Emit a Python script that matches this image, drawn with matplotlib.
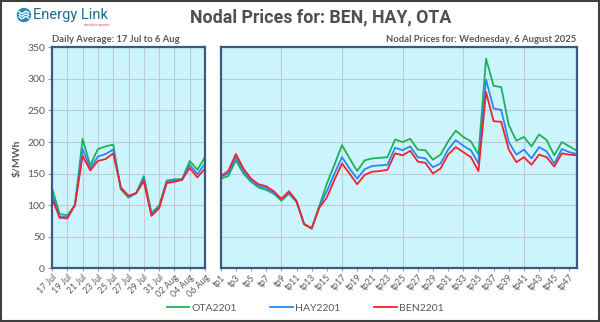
import numpy as np
import matplotlib
matplotlib.use("Agg")
import matplotlib.pyplot as plt
from matplotlib.patches import Rectangle, Circle

# daily averages, 17 Jul to 6 Aug
days = ["17 Jul", "18 Jul", "19 Jul", "20 Jul", "21 Jul", "22 Jul", "23 Jul", "24 Jul",
        "25 Jul", "26 Jul", "27 Jul", "28 Jul", "29 Jul", "30 Jul", "31 Jul", "01 Aug",
        "02 Aug", "03 Aug", "04 Aug", "05 Aug", "06 Aug"]
ota_daily = [127, 86, 84, 100, 205, 163, 189, 193, 196, 125, 112, 119, 146, 88, 99, 139,
             141, 141, 170, 156, 176]
hay_daily = [117, 82, 81, 100, 189, 158, 177, 181, 188, 127, 113, 119, 142, 85, 97, 137,
             139, 141, 164, 149, 166]
ben_daily = [111, 80, 79, 100, 178, 155, 170, 173, 182, 128, 115, 119, 138, 83, 95, 135,
             137, 140, 159, 144, 158]

# trading periods for 6 Aug 2025
tps = ["tp%d" % k for k in range(1, 49)]
ota_tp = [142, 146, 171, 150, 137, 128, 124, 118, 107, 118, 105, 70, 63, 98, 134, 164,
          195, 174, 154, 171, 174, 175, 176, 204, 200, 205, 188, 187, 172, 180, 201, 218,
          208, 201, 180, 332, 289, 287, 227, 202, 208, 193, 212, 203, 179, 200, 193, 186]
hay_tp = [145, 150, 176, 154, 139, 130, 127, 120, 109, 120, 106, 70, 63, 98, 122, 150,
          176, 158, 142, 157, 162, 163, 164, 191, 187, 193, 176, 174, 160, 166, 188, 203,
          194, 187, 166, 299, 253, 251, 200, 180, 188, 174, 192, 185, 166, 189, 184, 181]
ben_tp = [146, 154, 181, 158, 142, 133, 130, 122, 110, 122, 107, 70, 63, 96, 112, 140,
          166, 150, 133, 148, 153, 154, 156, 182, 179, 186, 169, 167, 150, 158, 180, 192,
          184, 176, 154, 279, 233, 232, 188, 168, 176, 164, 180, 176, 161, 182, 180, 179]

series = [("OTA2201", "#1DB15A"), ("HAY2201", "#2E86F5"), ("BEN2201", "#F5222D")]

W, H = 600, 322
fig = plt.figure(figsize=(W / 100, H / 100), dpi=100)
fig.patch.set_facecolor("white")
plt.rcParams["font.family"] = ["Lato", "DejaVu Sans"]

txt_col = "#595959"
bg = "#CCF4FC"
frame_col = "#3A5A86"
grid_col = "#BFC9D1"


def px(x, y):
    return x / W, 1 - y / H


def inch(x, y):
    return x / 100, (H - y) / 100


def style_axes(ax):
    ax.set_facecolor(bg)
    for s in ax.spines.values():
        s.set_color(frame_col)
        s.set_linewidth(1.6)
    ax.set_ylim(0, 350)
    ax.set_yticks(np.arange(0, 351, 50))
    ax.grid(axis="y", color=grid_col, lw=0.8)
    ax.tick_params(axis="x", length=2.5, color="#A0A0A0", labelsize=6.3,
                   labelcolor=txt_col, pad=1, rotation=45)
    ax.set_axisbelow(True)


y0, y1 = 268.3, 47.3
axl = fig.add_axes([52 / W, 1 - y0 / H, 153 / W, (y0 - y1) / H])
axr = fig.add_axes([220.7 / W, 1 - y0 / H, 356.3 / W, (y0 - y1) / H])

# daily average panel
style_axes(axl)
xd = np.arange(len(days))
for (name, col), vals in zip(series, [ota_daily, hay_daily, ben_daily]):
    axl.plot(xd, vals, color=col, lw=1.3, label=name)
axl.set_xlim(0, len(days) - 1)
axl.set_xticks(xd[::2])
axl.set_xticklabels(days[::2], ha="right", rotation_mode="anchor")
for xv in xd[::2]:
    axl.axvline(xv, color=grid_col, lw=0.8, zorder=0)
axl.tick_params(axis="y", length=3, color="#A0A0A0", labelsize=7.5, labelcolor=txt_col, pad=2)
axl.set_ylabel("$/MWh", fontsize=7.5, fontweight="bold", color=txt_col, labelpad=4)

# trading period panel
style_axes(axr)
xt = np.arange(len(tps))
for (name, col), vals in zip(series, [ota_tp, hay_tp, ben_tp]):
    axr.plot(xt, vals, color=col, lw=1.3)
axr.set_xlim(0, len(tps) - 1)
axr.set_xticks(xt[::2])
axr.set_xticklabels(tps[::2], ha="right", rotation_mode="anchor")
for xv in xt[::8]:
    axr.axvline(xv, color=grid_col, lw=0.8, zorder=0)
axr.tick_params(axis="y", left=False, labelleft=False)

# titles
fig.text(*px(321, 17), "Nodal Prices for: BEN, HAY, OTA", ha="center", va="center",
         fontsize=12.8, fontweight="bold", color="#4F4F4F", family=["Roboto", "DejaVu Sans"])
fig.text(*px(52, 40), "Daily Average: 17 Jul to 6 Aug", ha="left", va="center",
         fontsize=6.8, fontweight="bold", color=txt_col)
fig.text(*px(576, 40), "Nodal Prices for: Wednesday, 6 August 2025", ha="right", va="center",
         fontsize=6.8, fontweight="bold", color=txt_col)

# logo: round badge with three white waves
inch_tr = fig.dpi_scale_trans
fig.patches.append(Circle(inch(24, 15), 0.072, transform=inch_tr,
                          facecolor="#2389B5", edgecolor="none"))
t = np.linspace(-4.8, 4.8, 30)
for dy in (-2.6, 0, 2.6):
    half = np.sqrt(np.clip(49 - dy ** 2, 0, None)) * 0.85
    tt = t[np.abs(t) <= half]
    xs, ys = inch(24 + tt, 15 + dy - 1.1 * np.sin(tt * 0.8))
    fig.lines.append(plt.Line2D(xs, ys, transform=inch_tr, color="white", lw=1.0))
fig.text(*px(33, 15), "Energy Link", ha="left", va="center", fontsize=10.5,
         color="#1D6A8C", family=["Roboto", "DejaVu Sans"])
fig.text(*px(97, 25), "decision power", ha="center", va="center", fontsize=2.8,
         color="#E0407A")

# legend
fig.legend(loc="center", bbox_to_anchor=px(305, 308), ncol=3, frameon=False,
           fontsize=7.5, handlelength=2.2, columnspacing=3.2, handletextpad=0.2,
           labelcolor=txt_col)

# outer border
fig.patches.append(Rectangle((0.002, 0.003), 0.996, 0.994, transform=fig.transFigure,
                             fill=False, edgecolor="#404040", lw=1.5))

fig.savefig("out.png", dpi=100)
